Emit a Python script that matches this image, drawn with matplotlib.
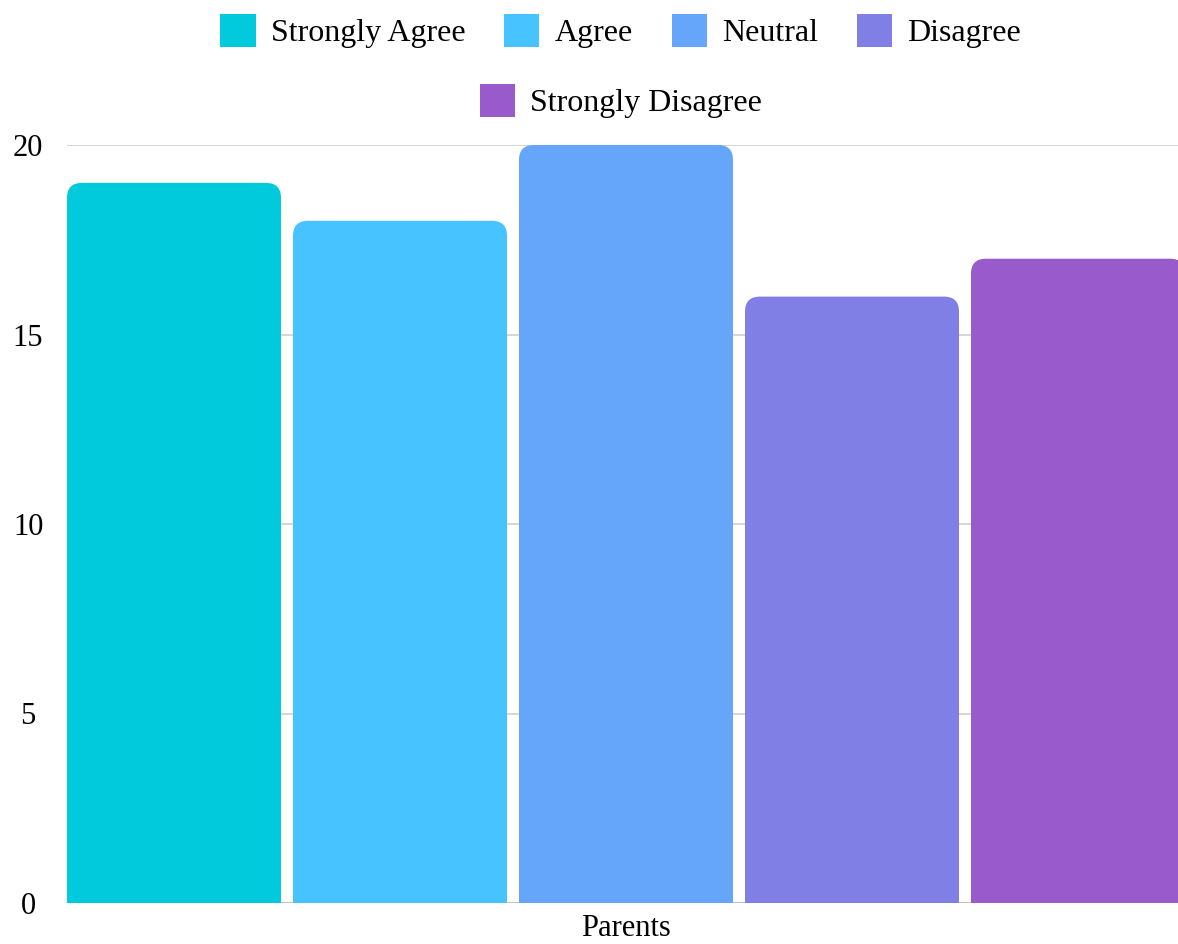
import matplotlib
matplotlib.use("Agg")
import matplotlib.pyplot as plt
from matplotlib.patches import FancyBboxPatch, Patch

categories = ["Parents"]
series = ["Strongly Agree", "Agree", "Neutral", "Disagree", "Strongly Disagree"]
values = [19, 18, 20, 16, 17]
colors = ["#00CADB", "#47C4FF", "#65A6FA", "#7F7FE6", "#995ACC"]
yticks = [0, 5, 10, 15, 20]

plt.rcParams['font.family'] = ['Liberation Serif', 'DejaVu Serif']

W, H = 1178, 944
fig = plt.figure(figsize=(W / 100, H / 100), dpi=100)
ax_left, ax_right, ax_top, ax_bottom = 67, 1178, 145, 903
ax = fig.add_axes([ax_left / W, 1 - ax_bottom / H, (ax_right - ax_left) / W, (ax_bottom - ax_top) / H])

spacing = 1.0
bw = 214 / 226
n = len(series)
offsets = [(i - (n - 1) / 2) * spacing for i in range(n)]
xlim = ((ax_left - 626) / 226, (ax_right - 626) / 226)
ax.set_xlim(*xlim)
ax.set_ylim(0, 20)

px_per_x = (ax_right - ax_left) / (xlim[1] - xlim[0])
px_per_y = (ax_bottom - ax_top) / 20
r_px = 15
rx = r_px / px_per_x
ry = r_px / px_per_y

bars = ax.bar(offsets, values, width=bw, color=colors, zorder=3)
for rect, c in zip(bars, colors):
    x0, w, h = rect.get_x(), rect.get_width(), rect.get_height()
    rect.remove()
    p = FancyBboxPatch((x0, -1), w, h + 1,
                       boxstyle=f"round,pad=0,rounding_size={rx}",
                       mutation_aspect=ry / rx, facecolor=c, edgecolor='none', zorder=3)
    p.set_clip_on(True)
    ax.add_patch(p)

ax.set_yticks(yticks)
ax.set_yticklabels([str(t) for t in yticks])
ax.tick_params(axis='y', length=0, pad=28, labelsize=22)
for lbl in ax.get_yticklabels():
    lbl.set_horizontalalignment('center')
ax.set_xticks([0])
ax.set_xticklabels(categories)
ax.tick_params(axis='x', length=0, pad=8, labelsize=22)

ax.grid(axis='y', color='#d0d0d0', linewidth=1.2, zorder=0)
ax.axhline(0, color='#666666', linewidth=1.2, zorder=1)
for s in ax.spines.values():
    s.set_visible(False)

handles = [Patch(facecolor=c, edgecolor='none', label=s) for s, c in zip(series, colors)]
fs = 23
leg_kw = dict(frameon=False, fontsize=fs, handlelength=1.1, handleheight=1.25,
              handletextpad=0.47, columnspacing=1.22, borderpad=0, borderaxespad=0, loc='center')
leg1 = fig.legend(handles=handles[:4], ncol=4, bbox_to_anchor=(620.5 / W, 1 - 31 / H), **leg_kw)
leg2 = fig.legend(handles=handles[4:], ncol=1, bbox_to_anchor=(621 / W, 1 - 101 / H), **leg_kw)

fig.savefig("out.png", dpi=100)
